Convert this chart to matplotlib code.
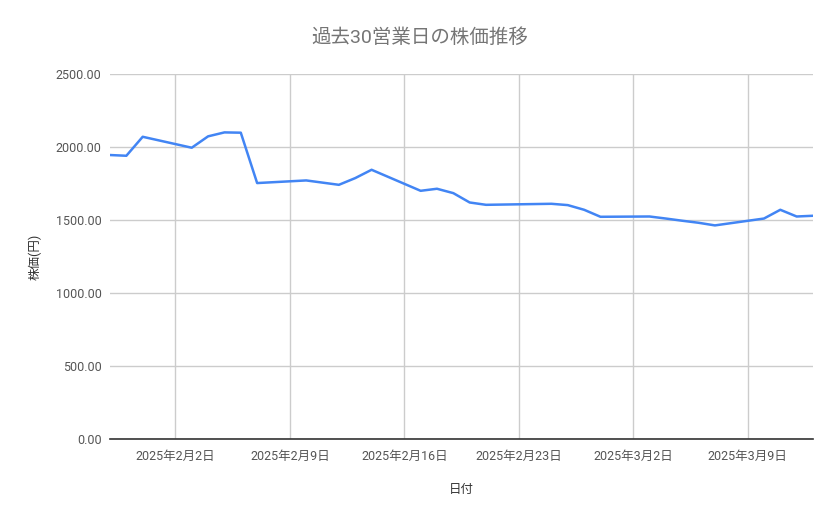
import matplotlib
matplotlib.use("Agg")
import matplotlib.pyplot as plt
import numpy as np
from datetime import datetime

plt.rcParams['font.family'] = ['Roboto', 'Noto Sans CJK JP', 'DejaVu Sans']

# 30 business days (Japanese holidays Feb 11 and Feb 24 skipped)
dates = [
    "2025-01-29", "2025-01-30", "2025-01-31",
    "2025-02-03", "2025-02-04", "2025-02-05", "2025-02-06", "2025-02-07",
    "2025-02-10", "2025-02-12", "2025-02-13", "2025-02-14",
    "2025-02-17", "2025-02-18", "2025-02-19", "2025-02-20", "2025-02-21",
    "2025-02-25", "2025-02-26", "2025-02-27", "2025-02-28",
    "2025-03-03", "2025-03-04", "2025-03-05", "2025-03-06", "2025-03-07",
    "2025-03-10", "2025-03-11", "2025-03-12", "2025-03-13",
]
prices = [
    1945, 1940, 2070,
    1995, 2073, 2100, 2098, 1753,
    1771, 1741, 1787, 1844,
    1700, 1714, 1684, 1620, 1604,
    1611, 1602, 1570, 1522,
    1524, 1510, 1495, 1481, 1463,
    1510, 1570, 1524, 1529,
]
tick_dates = ["2025-02-02", "2025-02-09", "2025-02-16", "2025-02-23", "2025-03-02", "2025-03-09"]

x = [datetime.strptime(d, "%Y-%m-%d") for d in dates]
ticks = [datetime.strptime(d, "%Y-%m-%d") for d in tick_dates]

fig = plt.figure(figsize=(8.39, 5.19), dpi=100)
ax = fig.add_axes([110 / 839, 80 / 519, 703 / 839, 365 / 519])

ax.plot(x, prices, color="#4285f4", linewidth=1.8)

ax.set_xlim(x[0], x[-1])
ax.set_ylim(0, 2500)
ax.set_yticks(np.arange(0, 2501, 500))
ax.yaxis.set_major_formatter(matplotlib.ticker.FormatStrFormatter("%.2f"))
ax.set_xticks(ticks)
ax.set_xticklabels([f"{t.year}年{t.month}月{t.day}日" for t in ticks])

ax.grid(True, color="#cccccc", linewidth=1)
ax.set_axisbelow(True)
for s in ["top", "right", "left"]:
    ax.spines[s].set_visible(False)
ax.spines["bottom"].set_color("#333333")
ax.spines["bottom"].set_linewidth(1.2)
ax.tick_params(length=0, labelsize=9, labelcolor="#555555")
ax.tick_params(axis="x", pad=8)
ax.tick_params(axis="y", pad=6)

ax.set_xlabel("日付", fontsize=9, color="#333333", labelpad=14)
ax.set_ylabel("株価(円)", fontsize=9, color="#333333", labelpad=10)
fig.text(0.5, 1 - 38 / 519, "過去30営業日の株価推移", ha="center", va="center",
         fontsize=14, color="#757575")

fig.savefig("out.png", dpi=100)
